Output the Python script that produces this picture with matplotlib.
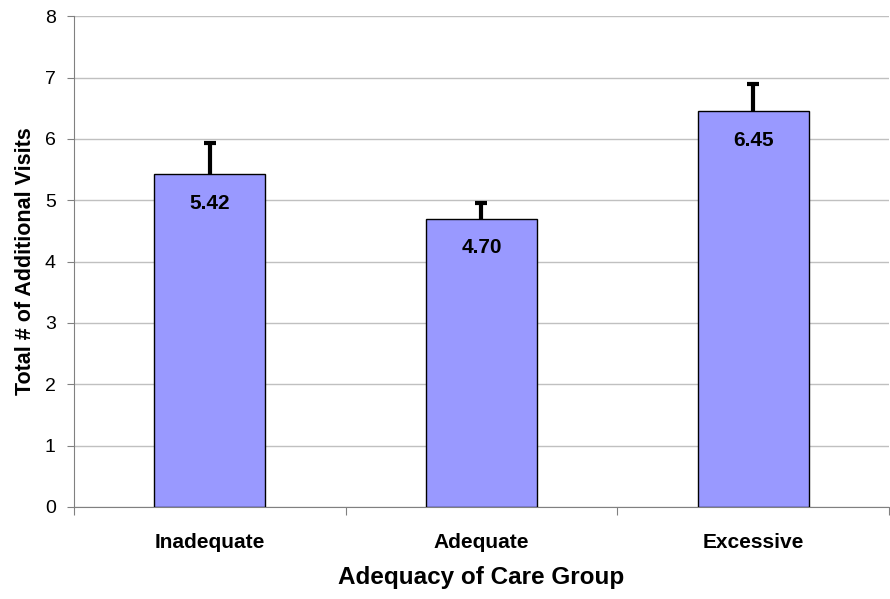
import numpy as np
import matplotlib.pyplot as plt

plt.rcParams['font.family'] = ['Liberation Sans', 'DejaVu Sans']

# data
groups = ['Inadequate', 'Adequate', 'Excessive']
visits = [5.42, 4.70, 6.45]
err_up = [0.52, 0.25, 0.44]

fig = plt.figure(figsize=(8.9, 5.99), dpi=100)
ax = fig.add_axes([0.083, 0.1536, 0.916, 0.8194])

x = np.arange(len(groups))
tops = np.array(visits) + np.array(err_up)
ax.bar(x, visits, width=0.41, color='#9999ff', edgecolor='black', linewidth=1.0, zorder=3)
# upper error bars only
ax.vlines(x, visits, tops, color='black', linewidth=3, zorder=4)
ax.plot(x, tops, ls='none', marker='_', ms=8, mew=3, color='black', zorder=4)

for xi, v in zip(x, visits):
    ax.annotate('{:.2f}'.format(v), (xi, v), xytext=(0, -21), textcoords='offset points',
                ha='center', va='center', fontsize=15, fontweight='bold', zorder=5)

ax.set_xlim(-0.5, 2.5)
ax.set_ylim(0, 8)
ax.set_yticks(np.arange(0, 9, 1))
ax.yaxis.grid(True, color='#c0c0c0', linewidth=1.0, zorder=0)
ax.set_axisbelow(True)

# category boundaries as tick marks, labels at centers
ax.set_xticks([-0.5, 0.5, 1.5, 2.5])
ax.set_xticklabels([])
ax.set_xticks(x, minor=True)
ax.set_xticklabels(groups, minor=True, fontsize=15, fontweight='bold')
ax.tick_params(axis='x', which='minor', length=0, pad=19)
ax.tick_params(axis='x', which='major', length=6, color='#808080', direction='out')
ax.tick_params(axis='y', length=5, color='#808080', labelsize=14, pad=8)

for s in ['top', 'right']:
    ax.spines[s].set_visible(False)
ax.spines['left'].set_color('#808080')
ax.spines['bottom'].set_color('#808080')

ax.set_xlabel('Adequacy of Care Group', fontsize=17.5, fontweight='bold', labelpad=10)
ax.set_ylabel('Total # of Additional Visits', fontsize=15.5, fontweight='bold', labelpad=6)

fig.savefig('out.png', dpi=100)
